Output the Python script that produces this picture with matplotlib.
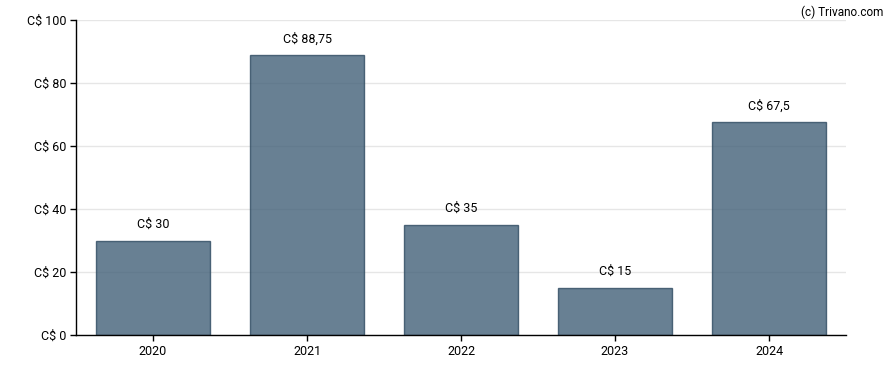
import matplotlib
matplotlib.use("Agg")
import matplotlib.pyplot as plt
import numpy as np

plt.rcParams['font.family'] = ['Roboto', 'DejaVu Sans']
plt.rcParams['font.size'] = 9

years = ["2020", "2021", "2022", "2023", "2024"]
values = [30, 88.75, 35, 15, 67.5]
labels = ["C$ 30", "C$ 88,75", "C$ 35", "C$ 15", "C$ 67,5"]
yticks = [0, 20, 40, 60, 80, 100]

fig = plt.figure(figsize=(8.88, 3.70), dpi=100)
ax = fig.add_axes([76/888, 35/370, 770/888, 315/370])

x = np.arange(len(years))
bars = ax.bar(x, values, width=0.74, color='#426178', alpha=0.8,
              edgecolor='#2e4a60', linewidth=1, zorder=2)

for xi, v, lab in zip(x, values, labels):
    ax.annotate(lab, (xi, v), xytext=(0, 7), textcoords='offset points',
                ha='center', va='bottom', fontsize=9)

ax.set_xlim(-0.5, 4.5)
ax.set_ylim(0, 100)
ax.set_xticks(x)
ax.set_xticklabels(years)
ax.set_yticks(yticks)
ax.set_yticklabels(["C$ %d" % t for t in yticks])

ax.grid(axis='y', color='#e6e6e6', linewidth=1, zorder=0)
ax.set_axisbelow(True)
for s in ['top', 'right']:
    ax.spines[s].set_visible(False)
for s in ['left', 'bottom']:
    ax.spines[s].set_color('black')
    ax.spines[s].set_linewidth(1)
ax.tick_params(axis='both', length=4, width=1, colors='black', pad=3)

fig.text(0.995, 0.985, "(c) Trivano.com", ha='right', va='top', fontsize=8.5)

fig.savefig("out.png", dpi=100)
